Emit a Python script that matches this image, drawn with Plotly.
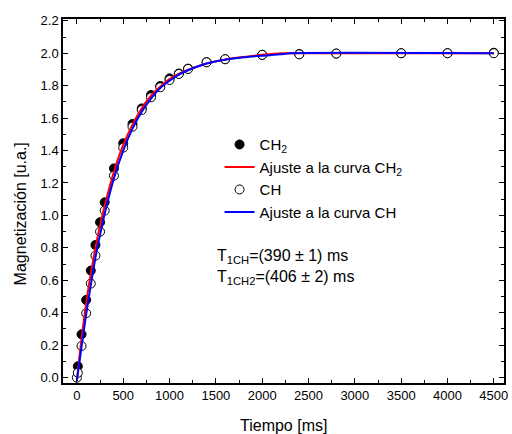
import plotly.graph_objects as go

# Measured data
t_ch2 = [10, 50, 100, 150, 200, 250, 300, 400, 500, 600, 700, 800, 900, 1000, 1100, 1200, 1400, 1600, 2000, 2400, 2800, 3500, 4000, 4500]
m_ch2 = [0.07, 0.267, 0.479, 0.66, 0.818, 0.958, 1.081, 1.29, 1.445, 1.564, 1.66, 1.743, 1.798, 1.845, 1.875, 1.905, 1.945, 1.963, 1.99, 1.995, 1.998, 2.0, 2.0, 2.003]

t_ch = [0, 10, 50, 100, 150, 200, 250, 300, 400, 500, 600, 700, 800, 900, 1000, 1100, 1200, 1400, 1600, 2000, 2400, 2800, 3500, 4000, 4500]
m_ch = [0.0, 0.03, 0.195, 0.397, 0.58, 0.752, 0.90, 1.03, 1.245, 1.418, 1.547, 1.65, 1.728, 1.79, 1.835, 1.872, 1.903, 1.944, 1.963, 1.99, 1.993, 1.998, 2.0, 2.0, 2.0]

# Fitted curves
fit_t = [0, 50, 100, 150, 200, 250, 300, 400, 500, 600, 700, 800, 900, 1000, 1100, 1200, 1400, 1600, 1800, 2000, 2200, 2300, 4500]
fit_ch2 = [-0.01, 0.24, 0.46, 0.64, 0.80, 0.94, 1.06, 1.27, 1.435, 1.56, 1.66, 1.738, 1.795, 1.84, 1.872, 1.898, 1.937, 1.962, 1.977, 1.99, 2.0, 2.0, 2.0]
fit_ch = [-0.02, 0.19, 0.39, 0.57, 0.74, 0.88, 1.01, 1.23, 1.40, 1.535, 1.64, 1.72, 1.785, 1.83, 1.868, 1.895, 1.937, 1.96, 1.975, 1.985, 1.993, 2.0, 2.0]

x_ticks = [0, 500, 1000, 1500, 2000, 2500, 3000, 3500, 4000, 4500]
y_ticks = [0.0, 0.2, 0.4, 0.6, 0.8, 1.0, 1.2, 1.4, 1.6, 1.8, 2.0, 2.2]

FONT = "Liberation Sans, Arial, sans-serif"

fig = go.Figure()
fig.add_trace(go.Scatter(x=t_ch2, y=m_ch2, mode="markers", name="CH<sub>2</sub>",
                         marker=dict(symbol="circle", size=9, color="black",
                                     line=dict(color="black", width=1)),
                         legendrank=1))
fig.add_trace(go.Scatter(x=t_ch, y=m_ch, mode="markers", name="CH",
                         marker=dict(symbol="circle", size=9, color="white",
                                     line=dict(color="black", width=1)),
                         legendrank=3))
fig.add_trace(go.Scatter(x=fit_t, y=fit_ch2, mode="lines", name="Ajuste a la curva CH<sub>2</sub>",
                         line=dict(color="#ff0000", width=2, shape="spline", smoothing=0.6),
                         legendrank=2))
fig.add_trace(go.Scatter(x=fit_t, y=fit_ch, mode="lines", name="Ajuste a la curva CH",
                         line=dict(color="#0000ff", width=2, shape="spline", smoothing=0.6),
                         legendrank=4))

axis_common = dict(showgrid=False, zeroline=False, showline=True, linecolor="black",
                   linewidth=1.5, mirror="ticks", ticks="inside", ticklen=5,
                   tickcolor="black", tickwidth=1,
                   tickfont=dict(family=FONT, size=13, color="black"))

fig.update_xaxes(range=[-150, 4610], tickvals=x_ticks,
                 ticktext=[str(v) for v in x_ticks],
                 minor=dict(dtick=250, tick0=0, ticks="inside", ticklen=3,
                            tickcolor="black", tickwidth=1),
                 **axis_common)
fig.update_yaxes(range=[-0.033, 2.211], tickvals=y_ticks,
                 ticktext=[f"{v:.1f}" for v in y_ticks],
                 minor=dict(dtick=0.1, tick0=0, ticks="inside", ticklen=3,
                            tickcolor="black", tickwidth=1),
                 **axis_common)

L, R, T, B = 63, 4, 19, 51
pw, ph = 512 - L - R, 434 - T - B

fig.update_layout(
    width=512, height=434,
    margin=dict(l=L, r=R, t=T, b=B),
    paper_bgcolor="white", plot_bgcolor="white",
    font=dict(family=FONT, size=15, color="black"),
    showlegend=True,
    legend=dict(x=0.355, y=0.70, xanchor="left", yanchor="top",
                bgcolor="rgba(0,0,0,0)", borderwidth=0,
                font=dict(family=FONT, size=15, color="black"),
                tracegroupgap=0, itemwidth=30),
    annotations=[
        dict(text="Tiempo [ms]", x=(286 - L) / pw, y=(434 - B - 425) / ph,
             xref="paper", yref="paper", xanchor="center", yanchor="middle",
             showarrow=False, font=dict(family=FONT, size=16)),
        dict(text="Magnetización [u.a.]", x=(20 - L) / pw, y=(434 - B - 214) / ph,
             xref="paper", yref="paper", xanchor="center", yanchor="middle",
             textangle=-90, showarrow=False, font=dict(family=FONT, size=16)),
        dict(text="T<sub>1CH</sub>=(390 ± 1) ms<br>T<sub>1CH2</sub>=(406 ± 2) ms",
             x=1490, y=0.68, xref="x", yref="y", xanchor="left", yanchor="middle",
             align="left", showarrow=False, font=dict(family=FONT, size=16)),
    ],
)

fig.write_html("out.html", config={"displayModeBar": False},
               post_script="document.body.style.margin='0';")
